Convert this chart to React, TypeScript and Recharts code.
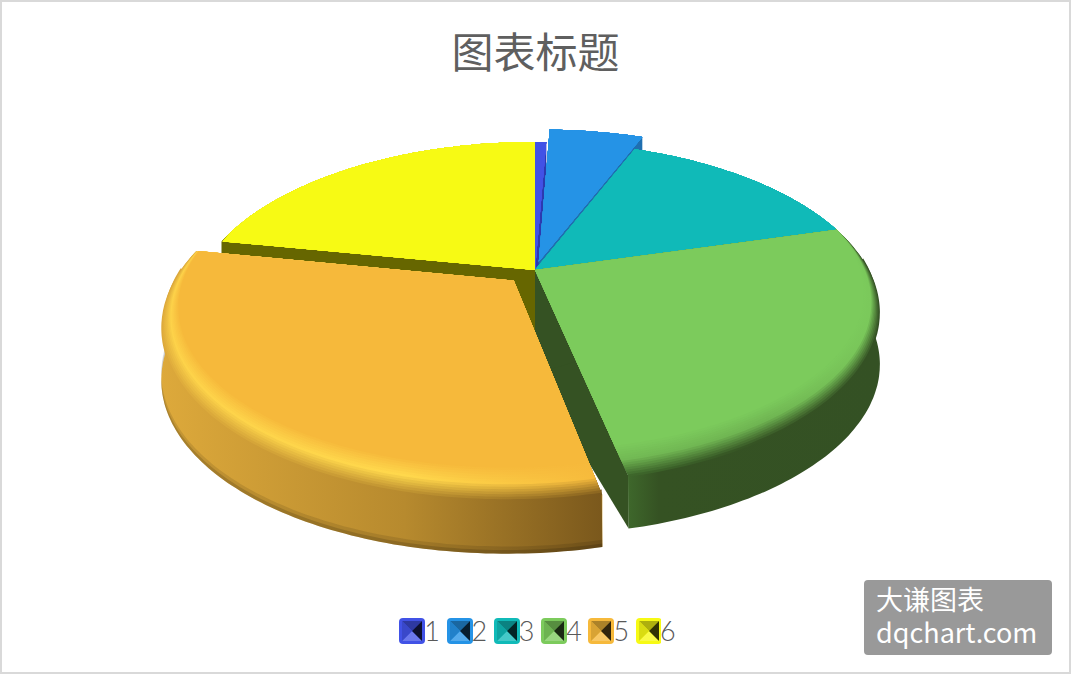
import { PieChart, Pie, Legend } from "recharts";

// values, in drawing order round the pie
const names = ["1", "2", "3", "4", "5", "6"];
const values = [1, 8, 22, 38.9, 47.1, 33];
const explode = [0, 0.055, 0, 0, 0.09, 0];
const radiusScale = [1, 1.07, 1, 1, 1, 1];
const colors = ["#4152E6", "#2593E6", "#10BAB8", "#7CCB5C", "#F6B93B", "#F7FA14"];
const sideColors = ["#2C3AB0", "#1F6FB0", "#0B8A88", "#355223", "#C4952F", "#666600"];
const wallFrom = ["#2C3AB0", "#1F6FB0", "#0B8A88", "#3E672B", "#DDA93B", "#666600"];
const wallMid = ["#2C3AB0", "#1F6FB0", "#0B8A88", "#355223", "#B78A2E", "#666600"];
const wallTo = ["#2C3AB0", "#1F6FB0", "#0B8A88", "#345124", "#7A581C", "#666600"];
const rimLight = ["#4152E6", "#2593E6", "#10BAB8", "#6FB552", "#FFD84C", "#F7FA14"];

const tableData = names.map((name, i) => ({ name, value: values[i] }));

// pie centre and the fake 3d camera
const CX = 535;
const CY = 270;
const R = 334;
const TILT = 160;
const PERSP = 0.249;
const DEPTH = 52;
const CENTRE_DEPTH = 2;
const LAYERS = 14;

const hexRgb = (h: string) => [1, 3, 5].map((i) => parseInt(h.slice(i, i + 2), 16));
const mix = (a: string, b: string, t: number) => {
  const ca = hexRgb(a);
  const cb = hexRgb(b);
  return "#" + ca.map((v, i) => Math.round(v + (cb[i] - v) * t).toString(16).padStart(2, "0")).join("");
};
const mix3 = (a: string, b: string, c: string, t: number) =>
  t < 0.5 ? mix(a, b, t * 2) : mix(b, c, (t - 0.5) * 2);

// the rounded rim only shows towards the viewer
const inset = (theta: number) => {
  const c = -Math.cos(theta);
  return 0.12 * Math.max(0, (c + 0.27) / 1.27);
};

const Slice3D = (props: any) => {
  const idx = names.indexOf(props.payload?.name ?? props.name);
  if (idx < 0) return null;
  const t1 = ((90 - props.startAngle) * Math.PI) / 180;
  const t2 = ((90 - props.endAngle) * Math.PI) / 180;
  const tm = (t1 + t2) / 2;
  const ox = explode[idx] * Math.sin(tm);
  const oy = -explode[idx] * Math.cos(tm);
  const scale = radiusScale[idx];

  const project = (x: number, y: number, z: number) => {
    const px = ox + x;
    const py = oy + y;
    const w = 1 - PERSP * py;
    return [CX + (R * px) / w, CY + (TILT * py) / w + DEPTH * z];
  };
  const onRim = (theta: number, r: number, z: number) =>
    project(scale * r * Math.sin(theta), -scale * r * Math.cos(theta), z);
  const steps = Math.max(2, Math.ceil(((t2 - t1) * 180) / Math.PI));
  const thetas = Array.from({ length: steps + 1 }, (_, i) => t1 + ((t2 - t1) * i) / steps);
  const toPath = (pts: number[][]) =>
    "M" + pts.map((p) => `${p[0].toFixed(1)},${p[1].toFixed(1)}`).join("L") + "Z";

  const slicePath = (t: number) =>
    toPath([
      project(0, 0, 0),
      ...thetas.map((th) => onRim(th, 1 - inset(th) * (1 - t), 0)),
    ]);
  // wall top tucks under the face on the near side, so no seam shows along the rim
  const tuck = (th: number) => (inset(th) > 0.02 ? -0.08 : 0);
  const wallPath = (z0: number, z1: number) =>
    toPath([
      ...thetas.map((th) => onRim(th, z0 === 0 ? 0.995 : 1, z0 === 0 ? tuck(th) : z0)),
      ...[...thetas].reverse().map((th) => onRim(th, 1, z1)),
    ]);
  const sidePath = (th: number) =>
    toPath([project(0, 0, 0), onRim(th, 1, 0), onRim(th, 1, 1), project(0, 0, CENTRE_DEPTH)]);

  const xs = thetas.map((th) => onRim(th, 1, 0)[0]);
  const minX = Math.min(...xs);
  const maxX = Math.max(...xs) + 1;
  const flat = colors[idx];
  const layers = Array.from({ length: LAYERS }, (_, i) => 1 - i / LAYERS);

  return (
    <g>
      <defs>
        <linearGradient id={`wall-${idx}`} gradientUnits="userSpaceOnUse" x1={minX} x2={maxX} y1={0} y2={0}>
          <stop offset="0" stopColor={wallFrom[idx]} />
          <stop offset={idx === 3 ? "0.12" : "0.55"} stopColor={wallMid[idx]} />
          <stop offset="1" stopColor={wallTo[idx]} />
        </linearGradient>
        {layers.map((t, i) => (
          <linearGradient key={i} id={`rim-${idx}-${i}`} gradientUnits="userSpaceOnUse" x1={minX} x2={maxX} y1={0} y2={0}>
            <stop offset="0" stopColor={mix3(flat, mix(flat, rimLight[idx], 0.8), wallFrom[idx], t)} />
            <stop offset="0.55" stopColor={mix3(flat, rimLight[idx], wallMid[idx], t)} />
            <stop offset="1" stopColor={mix3(flat, flat, wallTo[idx], t)} />
          </linearGradient>
        ))}
      </defs>
      <path d={sidePath(t2)} fill={sideColors[idx]} />
      <path d={sidePath(t1)} fill={sideColors[idx]} />
      <path d={wallPath(0, 1)} fill={`url(#wall-${idx})`} />
      {idx === 4 && <path d={wallPath(0.86, 1)} fill="#000" fillOpacity={0.1} />}
      {idx === 4 && <path d={wallPath(0.93, 1)} fill="#000" fillOpacity={0.14} />}
      {layers.map((t, i) => (
        <path key={i} d={slicePath(t)} fill={`url(#rim-${idx}-${i})`} />
      ))}
      <path d={slicePath(0)} fill={flat} />
    </g>
  );
};

// slices further back have to be painted first
const backOrder = ["1", "2", "3", "6"];
const frontOrder = ["4", "5"];
const backShape = (props: any) =>
  backOrder.includes(props.payload?.name ?? props.name) ? <Slice3D {...props} /> : <g />;
const frontShape = (props: any) =>
  frontOrder.includes(props.payload?.name ?? props.name) ? <Slice3D {...props} /> : <g />;

const LegendIcon = ({ color }: { color: string }) => (
  <svg width={26} height={26} style={{ display: "block" }}>
    <rect x={0} y={0} width={26} height={26} rx={4} fill={color} />
    <polygon points="3,3 23,3 13,13" fill={mix(color, "#000000", 0.3)} />
    <polygon points="3,23 23,23 13,13" fill={mix(color, "#FFFFFF", 0.22)} />
    <polygon points="3,3 3,23 13,13" fill={mix(color, "#000000", 0.12)} />
    <polygon points="23,3 23,23 13,13" fill={mix(color, "#000000", 0.8)} />
  </svg>
);

const renderLegend = () => (
  <div style={{ display: "flex", justifyContent: "center", gap: 0, paddingLeft: 4 }}>
    {names.map((n, i) => (
      <div key={n} style={{ display: "flex", alignItems: "center", width: i === 5 ? 40 : 47.3 }}>
        <LegendIcon color={colors[i]} />
        <span style={{ fontFamily: "Lato, sans-serif", fontWeight: 300, fontSize: 27, color: "#595959", lineHeight: "26px", marginLeft: -1 }}>
          {n}
        </span>
      </div>
    ))}
  </div>
);

export default function App() {
  return (
    <div style={{ position: "absolute", left: 0, top: 0, width: 1071, height: 674, background: "#fff", overflow: "hidden" }}>
      <PieChart width={1071} height={674} margin={{ top: 0, right: 0, bottom: 0, left: 0 }}>
        <Pie
          data={tableData}
          dataKey="value"
          nameKey="name"
          cx={CX}
          cy={CY}
          outerRadius={R}
          startAngle={90}
          endAngle={-270}
          stroke="none"
          shape={backShape}
          isAnimationActive={false}
        />
        <Pie
          data={tableData}
          dataKey="value"
          nameKey="name"
          cx={CX}
          cy={CY}
          outerRadius={R}
          startAngle={90}
          endAngle={-270}
          stroke="none"
          legendType="none"
          shape={frontShape}
          isAnimationActive={false}
        />
        <Legend content={renderLegend} wrapperStyle={{ position: "absolute", left: 0, top: 618, width: 1071 }} />
      </PieChart>
      <div style={titleStyle}>图表标题</div>
      <div style={markStyle}>
        <div>大谦图表</div>
        <div>dqchart.com</div>
      </div>
      <div style={frameStyle} />
    </div>
  );
}

const titleStyle: any = {
  position: "absolute",
  left: 0,
  top: 20,
  width: 1071,
  textAlign: "center",
  fontFamily: "'Noto Sans CJK SC', sans-serif",
  fontSize: 42,
  lineHeight: "60px",
  color: "#5F5F5F",
};
const markStyle: any = {
  position: "absolute",
  left: 864,
  top: 580,
  width: 188,
  height: 75,
  boxSizing: "border-box",
  paddingLeft: 12,
  paddingTop: 2,
  background: "#999999",
  borderRadius: 4,
  color: "#fff",
  fontFamily: "'Noto Sans CJK SC', sans-serif",
  fontSize: 27,
  lineHeight: "33px",
};
const frameStyle: any = {
  position: "absolute",
  left: 0,
  top: 0,
  width: 1071,
  height: 674,
  boxSizing: "border-box",
  border: "2px solid #D9D9D9",
  pointerEvents: "none",
};
